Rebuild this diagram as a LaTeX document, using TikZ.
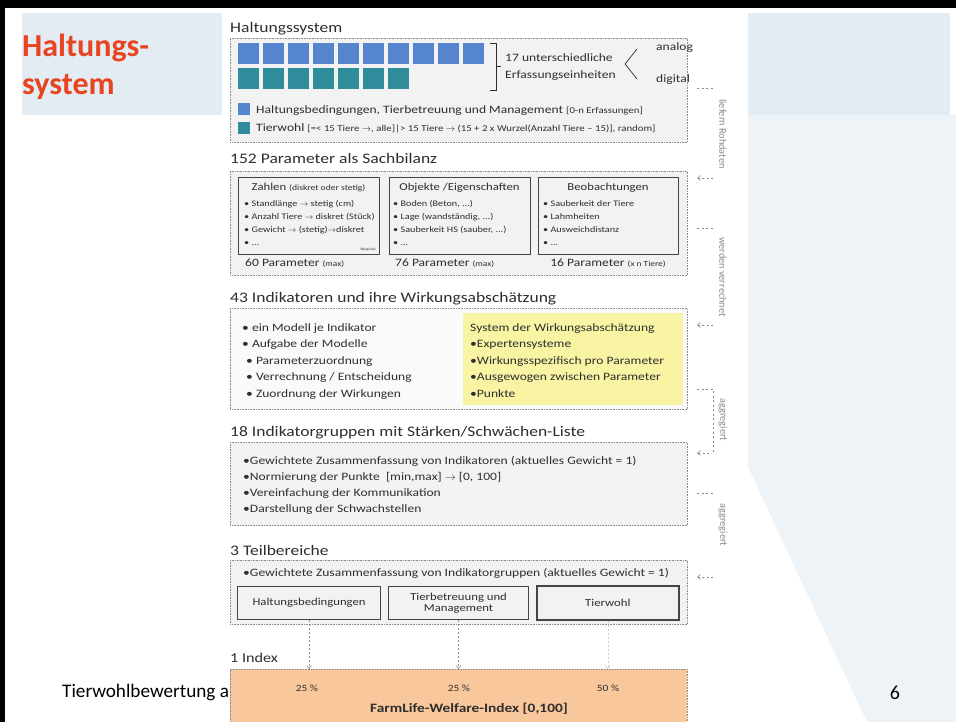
\documentclass[tikz,border=0pt]{standalone}
\usepackage{fontspec}
\setmainfont{Carlito}
\newfontfamily\dg[FakeStretch=1.2]{Carlito}
\usetikzlibrary{arrows.meta,calc}
\definecolor{band}{HTML}{E4ECF3}
\definecolor{lightbg}{HTML}{EEF3F7}
\definecolor{hred}{HTML}{E8441F}
\definecolor{sqblue}{HTML}{5585CC}
\definecolor{sqteal}{HTML}{2F8C9B}
\definecolor{boxgrey}{HTML}{F2F2F2}
\definecolor{boxwhite}{HTML}{FAFAFA}
\definecolor{ylw}{HTML}{F8F4A4}
\definecolor{orng}{HTML}{F9C79C}
\definecolor{txt}{HTML}{2E2E2E}
\definecolor{dotc}{HTML}{8C8C8C}
\definecolor{boxline}{HTML}{444444}
\definecolor{sidec}{HTML}{8A8A8A}
\newcommand\fsz[1]{\fontsize{#1}{#1}\selectfont}
\tikzset{
  dtxt/.style={font=\dg\fsz{11.3}, text=txt, inner sep=0pt, anchor=base west},
  btxt/.style={font=\dg\fsz{8.5}, text=txt, inner sep=0pt, anchor=base west},
  ttl/.style={font=\dg\fsz{14.6}, text=txt, inner sep=0pt, anchor=base west},
  secbox/.style={draw=dotc, densely dotted, line width=0.6pt, inner sep=0pt, anchor=north west},
  inbox/.style={draw=boxline, line width=1.2pt, fill=boxgrey, inner sep=0pt, anchor=north west, font=\dg\fsz{10.6}, text=txt, align=center},
  sidelbl/.style={rotate=-90, font=\fsz{10.3}, text=sidec, inner sep=0pt},
  sidemark/.style={draw=sidec, dash pattern=on 2pt off 2.5pt, line width=0.6pt},
  sidearrow/.style={sidemark, -{Straight Barb[length=3pt,width=5pt]}},
  flow/.style={draw=dotc, dash pattern=on 2pt off 2pt, line width=0.6pt, -{Straight Barb[length=3pt,width=5pt]}},
  sq/.style={inner sep=0pt, minimum width=21pt, minimum height=21pt, anchor=north west}
}
\begin{document}
\begin{tikzpicture}[x=1pt,y=-1pt]
\useasboundingbox (0,0) rectangle (956,722);
\fill[white] (0,0) rectangle (956,722);
% slide background
\fill[lightbg] (748,115) -- (956,115) -- (956,722) -- (867,722) -- (748,467) -- cycle;
\fill[band] (22,13) rectangle (950,115);
\fill[black] (0,0) rectangle (956,8);
\fill[black] (0,0) rectangle (5,722);
\node[anchor=base, inner sep=0pt, font=\fsz{20}, text=black] (pnum) at (895,699) {6};
\node[anchor=base west, inner sep=0pt, font=\bfseries\fsz{32}, text=hred] (head1) at (22,57) {Haltungs-};
\node[anchor=base west, inner sep=0pt, font=\bfseries\fsz{32}, text=hred] (head2) at (22,95) {system};
% diagram area
\fill[white] (222,8) rectangle (748,722);
\begin{scope}
\clip (0,600) rectangle (230,722);
\node[anchor=base west, inner sep=0pt, font=\fsz{19.2}, text=black] (foot) at (62,697) {Tierwohlbewertung a};
\end{scope}

% ---------- Section 1
\node[ttl] (t1) at (230,33) {Haltungssystem};
\node[secbox, fill=boxgrey, minimum width=457pt, minimum height=104pt] (b1) at (230,38) {};
\foreach \i in {0,...,9} \node[sq, fill=sqblue] (sa\i) at ({238+25*\i},43) {};
\foreach \i in {0,...,6} \node[sq, fill=sqteal] (sb\i) at ({238+25*\i},68) {};
\draw[txt, line width=0.8pt] (490,43) -- (496,43) -- (496,90) -- (490,90) (496,66) -- (501,66);
\node[dtxt] (n17) at (505,62) {17 unterschiedliche};
\node[dtxt] (nerf) at (505,79) {Erfassungseinheiten};
\draw[txt, line width=0.7pt] (637,49) -- (625,64) -- (637,79);
\node[dtxt] (nan) at (656,51) {analog};
\node[dtxt] (ndi) at (656,83) {digital};
\node[inner sep=0pt, minimum size=12pt, fill=sqblue, anchor=north west] (lsq1) at (238,103) {};
\node[dtxt] (lg1) at (256,114) {Haltungsbedingungen, Tierbetreuung und Management {\fsz{9}[0-n Erfassungen]}};
\node[inner sep=0pt, minimum size=12pt, fill=sqteal, anchor=north west] (lsq2) at (238,122) {};
\node[dtxt] (lg2) at (256,132) {Tierwohl {\fsz{9}[=< 15 Tiere $\rightarrow$, alle]|> 15 Tiere $\rightarrow$ (15 + 2 x Wurzel(Anzahl Tiere – 15)], random]}};

% ---------- Section 2
\node[ttl] (t2) at (230,164) {152 Parameter als Sachbilanz};
\node[secbox, fill=boxgrey, minimum width=457pt, minimum height=104pt] (b2) at (230,171) {};
\node[inbox, minimum width=141pt, minimum height=77pt] (z1) at (238,177) {};
\node[inbox, minimum width=141pt, minimum height=77pt] (z2) at (389,177) {};
\node[inbox, minimum width=140pt, minimum height=77pt] (z3) at (538,177) {};
\node[dtxt, anchor=base, font=\dg\fsz{10.6}] (z1t) at (308.5,191) {Zahlen {\fsz{8}(diskret oder stetig)}};
\node[dtxt, anchor=base, font=\dg\fsz{10.6}] (z2t) at (459.5,191) {Objekte /Eigenschaften};
\node[dtxt, anchor=base, font=\dg\fsz{10.6}] (z3t) at (608,191) {Beobachtungen};
\node[btxt] (z1a) at (244,207) {• Standlänge $\rightarrow$ stetig (cm)};
\node[btxt] (z1b) at (244,220) {• Anzahl Tiere $\rightarrow$ diskret (Stück)};
\node[btxt] (z1c) at (244,233) {• Gewicht $\rightarrow$ (stetig)$\rightarrow$diskret};
\node[btxt] (z1d) at (244,246) {• ...};
\node[btxt, anchor=base east, font=\dg\fsz{3.5}] (z1e) at (376,251) {Beispiele};
\node[btxt] (z2a) at (393,207) {• Boden (Beton, ...)};
\node[btxt] (z2b) at (393,220) {• Lage (wandständig, ...)};
\node[btxt] (z2c) at (393,233) {• Sauberkeit HS (sauber, ...)};
\node[btxt] (z2d) at (393,246) {• ...};
\node[btxt] (z3a) at (543,207) {• Sauberkeit der Tiere};
\node[btxt] (z3b) at (543,220) {• Lahmheiten};
\node[btxt] (z3c) at (543,233) {• Ausweichdistanz};
\node[btxt] (z3d) at (543,246) {• ...};
\node[dtxt] (p60) at (245,266) {60 Parameter {\fsz{7.8}(max)}};
\node[dtxt] (p76) at (395,266) {76 Parameter {\fsz{7.8}(max)}};
\node[dtxt, anchor=base] (p16) at (608,266) {16 Parameter {\fsz{7.8}(x n Tiere)}};

% ---------- Section 3
\node[ttl] (t3) at (230,302) {43 Indikatoren und ihre Wirkungsabschätzung};
\node[secbox, fill=boxwhite, minimum width=457pt, minimum height=101pt] (b3) at (230,308) {};
\node[anchor=north west, fill=ylw, minimum width=220pt, minimum height=92pt, inner sep=0pt] (yb) at (463,313) {};
\node[dtxt] (l1) at (242,331) {• ein Modell je Indikator};
\node[dtxt] (l2) at (242,347.5) {• Aufgabe der Modelle};
\node[dtxt] (l3) at (246,364) {• Parameterzuordnung};
\node[dtxt] (l4) at (246,380.5) {• Verrechnung / Entscheidung};
\node[dtxt] (l5) at (246,397) {• Zuordnung der Wirkungen};
\node[dtxt] (y1) at (470,331) {System der Wirkungsabschätzung};
\node[dtxt] (y2) at (470,347.5) {•Expertensysteme};
\node[dtxt] (y3) at (470,364) {•Wirkungsspezifisch pro Parameter};
\node[dtxt] (y4) at (470,380.5) {•Ausgewogen zwischen Parameter};
\node[dtxt] (y5) at (470,397) {•Punkte};

% ---------- Section 4
\node[ttl] (t4) at (230,436) {18 Indikatorgruppen mit Stärken/Schwächen-Liste};
\node[secbox, fill=boxgrey, minimum width=457pt, minimum height=83pt] (b4) at (230,442) {};
\node[dtxt] (g1) at (243,464) {•Gewichtete Zusammenfassung von Indikatoren (aktuelles Gewicht = 1)};
\node[dtxt] (g2) at (243,480) {•Normierung der Punkte\ \ [min,max] $\rightarrow$ [0, 100]};
\node[dtxt] (g3) at (243,496) {•Vereinfachung der Kommunikation};
\node[dtxt] (g4) at (243,512) {•Darstellung der Schwachstellen};

% ---------- Section 5
\node[ttl] (t5) at (230,555) {3 Teilbereiche};
\node[secbox, fill=boxgrey, minimum width=457pt, minimum height=64pt] (b5) at (230,560) {};
\node[dtxt] (tb0) at (243,576) {•Gewichtete Zusammenfassung von Indikatorgruppen (aktuelles Gewicht = 1)};
\node[inbox, minimum width=143pt, minimum height=33pt] (tbA) at (237,586) {Haltungsbedingungen};
\node[inbox, minimum width=140pt, minimum height=33pt] (tbB) at (388,586) {Tierbetreuung und\\Management};
\node[inbox, minimum width=142pt, minimum height=34pt, line width=1.7pt] (tbC) at (536,585) {Tierwohl};

% ---------- Index
\node[ttl, font=\dg\fsz{13.5}] (t6) at (230,662) {1 Index};
\node[secbox, fill=orng, minimum width=457pt, minimum height=60pt] (b6) at (230,669) {};
\draw[flow] (tbA.south) -- (tbA.south |- b6.north);
\draw[flow] (tbB.south) -- (tbB.south |- b6.north);
\draw[flow, draw=dotc!45] (tbC.south) -- (tbC.south |- b6.north);
\node[dtxt, anchor=base, font=\dg\fsz{9.5}] (pc1) at (307,691) {25 \%};
\node[dtxt, anchor=base, font=\dg\fsz{9.5}] (pc2) at (459,691) {25 \%};
\node[dtxt, anchor=base, font=\dg\fsz{9.5}] (pc3) at (608,691) {50 \%};
\node[dtxt, anchor=base, font=\dg\bfseries\fsz{12.8}] (fli) at (469,712) {FarmLife-Welfare-Index [0,100]};

% ---------- side marks
\coordinate (m1a) at (697,88);  \coordinate (m1b) at (713,88);
\draw[sidemark] (m1a) -- (m1b);
\node[sidelbl] (s1) at (723,134) {liefern Rohdaten};
\coordinate (a1a) at (713,178); \coordinate (a1b) at (697,178);
\draw[sidearrow] (a1a) -- (a1b);
\coordinate (m2a) at (697,228); \coordinate (m2b) at (713,228);
\draw[sidemark] (m2a) -- (m2b);
\node[sidelbl] (s2) at (723,277) {werden verrechnet};
\coordinate (a2a) at (713,325); \coordinate (a2b) at (697,325);
\draw[sidearrow] (a2a) -- (a2b);
\coordinate (m3a) at (697,389); \coordinate (m3b) at (713,389); \coordinate (m3c) at (713,452);
\draw[sidemark] (m3a) -- (m3b) -- (m3c);
\node[sidelbl] (s3) at (723,420) {aggregiert};
\coordinate (a3a) at (709,453); \coordinate (a3b) at (697,453);
\draw[sidearrow] (a3a) -- (a3b);
\coordinate (m4a) at (697,493); \coordinate (m4b) at (713,493);
\draw[sidemark] (m4a) -- (m4b);
\node[sidelbl] (s4) at (723,525) {aggregiert};
\coordinate (a4a) at (713,577); \coordinate (a4b) at (697,577);
\draw[sidearrow] (a4a) -- (a4b);
\end{tikzpicture}
\end{document}
